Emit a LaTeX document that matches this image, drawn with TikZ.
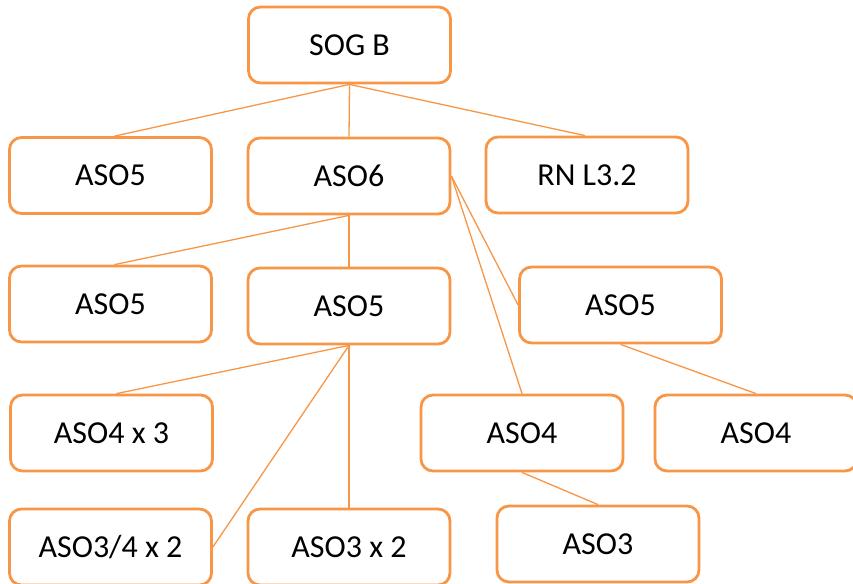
\documentclass[tikz,border=0pt]{standalone}
\usepackage{fontspec}
\setmainfont{Carlito}
\definecolor{boxorange}{HTML}{F79646}
\begin{document}
\begin{tikzpicture}[x=1pt,y=-1pt,
  orgbox/.style={draw=boxorange, line width=2.8pt, fill=white, rounded corners=12pt,
    minimum width=202pt, minimum height=76pt, inner sep=0pt,
    font=\fontsize{32}{38}\selectfont, text=black},
  link/.style={draw=boxorange, line width=1.3pt}]
\useasboundingbox (0,0) rectangle (853,583);
% boxes, top to bottom
\node[orgbox] (sog)  at (349.5,45)  {SOG B};
\node[orgbox] (a5a)  at (110.5,175.5) {ASO5};
\node[orgbox] (a6)   at (349,176)  {ASO6};
\node[orgbox] (rn)   at (587,175)  {RN L3.2};
\node[orgbox] (a5b)  at (110.5,304) {ASO5};
\node[orgbox] (a5c)  at (349,306)  {ASO5};
\node[orgbox] (a5d)  at (620.5,305) {ASO5};
\node[orgbox] (a4x3) at (111.5,433) {ASO4 x 3};
\node[orgbox] (a4a)  at (522,433)  {ASO4};
\node[orgbox] (a4b)  at (756,433)  {ASO4};
\node[orgbox] (a34)  at (110.5,547) {ASO3/4 x 2};
\node[orgbox] (a3x2) at (349,547)  {ASO3 x 2};
\node[orgbox] (a3)   at (598,544)  {ASO3};
% connectors
\draw[link] (sog.south) -- ([xshift=4pt]a5a.north);
\draw[link] (sog.south) -- (a6.north);
\draw[link] (sog.south) -- ([xshift=-2pt]rn.north);
\draw[link] (a6.south) -- ([xshift=4pt]a5b.north);
\draw[link] (a6.south) -- (a5c.north);
\draw[link] (a6.east) -- (a5d.west);
\draw[link] (a6.east) -- (a4a.north);
\draw[link] (a5c.south) -- ([xshift=5pt]a4x3.north);
\draw[link] (a5c.south) -- (a34.east);
\draw[link] (a5c.south) -- (a3x2.north);
\draw[link] (a5d.south) -- (a4b.north);
\draw[link] (a4a.south) -- (a3.north);
\end{tikzpicture}
\end{document}
